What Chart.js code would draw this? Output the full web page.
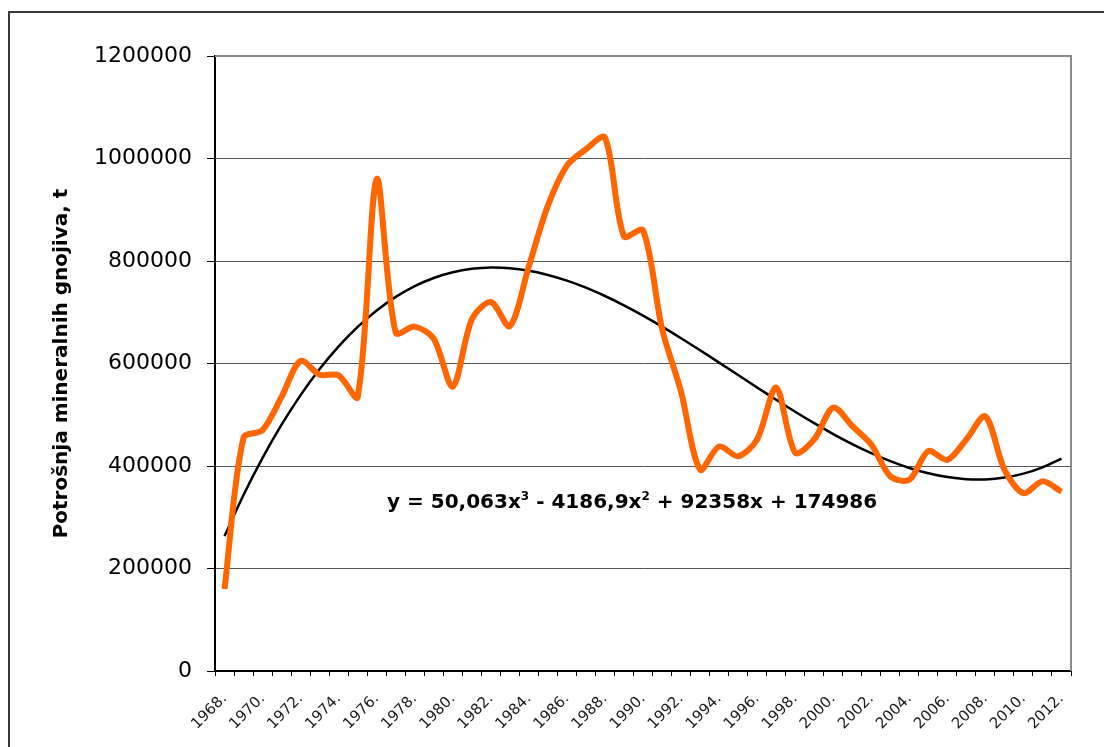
<!DOCTYPE html>
<html>
<head>
<meta charset="utf-8">
<script src="https://cdn.jsdelivr.net/npm/chart.js@4.4.1/dist/chart.umd.min.js"></script>
<style>
  html, body { margin: 0; padding: 0; background: #fff; }
  #frame { position: absolute; left: 8px; top: 11px; width: 1200px; height: 900px; border: 2px solid #3a3a3a; }
  #wrap { position: absolute; left: 0; top: 0; width: 1104px; height: 747px; }
</style>
</head>
<body>
<div id="frame"></div>
<div id="wrap"><canvas id="chart"></canvas></div>
<script>
const years = ['1968.', '1969.', '1970.', '1971.', '1972.', '1973.', '1974.', '1975.', '1976.', '1977.',
  '1978.', '1979.', '1980.', '1981.', '1982.', '1983.', '1984.', '1985.', '1986.', '1987.',
  '1988.', '1989.', '1990.', '1991.', '1992.', '1993.', '1994.', '1995.', '1996.', '1997.',
  '1998.', '1999.', '2000.', '2001.', '2002.', '2003.', '2004.', '2005.', '2006.', '2007.',
  '2008.', '2009.', '2010.', '2011.', '2012.'];

// potrošnja (t)
const consumption = [160000, 455000, 470000, 535000, 605000, 578000, 577000, 535000, 960000, 660000,
  672000, 648000, 555000, 686000, 720000, 673000, 790000, 908000, 986000, 1018000,
  1041000, 848000, 860000, 668000, 545000, 393000, 438000, 419000, 452000, 553000,
  426000, 452000, 514000, 478000, 442000, 380000, 373000, 429000, 412000, 452000,
  497000, 393000, 347000, 370000, 350000];

// polynomial trend (3rd order), values as plotted
const trend = [263207, 343355, 415730, 480632, 538361, 589219, 633506, 671521, 703565, 729939,
  750943, 766877, 778042, 784739, 787266, 785926, 781018, 772841, 761699, 747890,
  731714, 713473, 693467, 671995, 649357, 625857, 601792, 577463, 553172, 529217,
  505900, 483520, 462380, 442778, 425014, 409391, 396207, 385763, 378360, 374298,
  373877, 377398, 385161, 397467, 414614];

const yTicks = [0, 200000, 400000, 600000, 800000, 1000000, 1200000];
const equation = [['y = 50,063x', ''], ['3', 'sup'], [' - 4186,9x', ''], ['2', 'sup'], [' + 92358x + 174986', '']];

const extras = {
  id: 'extras',
  afterDatasetsDraw(chart) {
    const { ctx, chartArea: a } = chart;
    ctx.save();
    // plot area border (top/right)
    ctx.strokeStyle = '#8a8a8a';
    ctx.lineWidth = 2;
    ctx.beginPath();
    ctx.moveTo(a.left, a.top);
    ctx.lineTo(a.right, a.top);
    ctx.lineTo(a.right, a.bottom);
    ctx.stroke();
    // trendline equation
    let x = a.left + (a.right - a.left) * 0.201;
    const y = a.top + (a.bottom - a.top) * 0.735;
    ctx.fillStyle = '#000';
    ctx.textBaseline = 'alphabetic';
    equation.forEach(([txt, kind]) => {
      ctx.font = kind === 'sup' ? 'bold 12px "DejaVu Sans"' : 'bold 20px "DejaVu Sans"';
      ctx.fillText(txt, x, kind === 'sup' ? y - 8 : y);
      x += ctx.measureText(txt).width;
    });
    ctx.restore();
  }
};

new Chart(document.getElementById('chart').getContext('2d'), {
  type: 'line',
  data: {
    labels: years,
    datasets: [
      {
        data: consumption,
        borderColor: '#ff6600',
        borderWidth: 6,
        pointRadius: 0,
        tension: 0.3,
        fill: false,
      },
      {
        data: trend,
        borderColor: '#000',
        borderWidth: 2.5,
        pointRadius: 0,
        tension: 0.4,
        fill: false,
      }
    ]
  },
  options: {
    responsive: true,
    maintainAspectRatio: false,
    animation: false,
    layout: { padding: { left: 0, top: 56, right: 33, bottom: 0 } },
    plugins: { legend: { display: false }, tooltip: { enabled: false } },
    scales: {
      x: {
        type: 'category',
        offset: true,
        afterFit: s => { s.height = 76; },
        border: { color: '#000', width: 2 },
        grid: { offset: true, drawOnChartArea: false, tickLength: 5, tickColor: '#000', lineWidth: 1 },
        ticks: {
          autoSkip: false,
          minRotation: 45,
          maxRotation: 45,
          padding: 14,
          color: '#1a1a1a',
          font: { family: 'DejaVu Sans', size: 15 },
          callback: (v, i) => (i % 2 === 0 ? years[i] : '')
        }
      },
      y: {
        min: 0,
        max: 1200000,
        afterFit: s => { s.width = 215; },
        afterBuildTicks: s => { s.ticks = yTicks.map(v => ({ value: v })); },
        border: { color: '#000', width: 2 },
        grid: {
          color: c => (c.tick && c.tick.value === 1200000 ? 'rgba(0,0,0,0)' : '#555'),
          lineWidth: 1,
          tickLength: 8,
          tickColor: '#000'
        },
        ticks: {
          padding: 15,
          color: '#000',
          font: { family: 'DejaVu Sans', size: 22 },
          callback: v => String(v)
        },
        title: {
          display: true,
          text: 'Potrošnja mineralnih gnojiva, t',
          color: '#000',
          padding: { top: 50, bottom: 0 },
          font: { family: 'DejaVu Sans', size: 20, weight: 'bold' }
        }
      }
    }
  },
  plugins: [extras]
});
</script>
</body>
</html>
